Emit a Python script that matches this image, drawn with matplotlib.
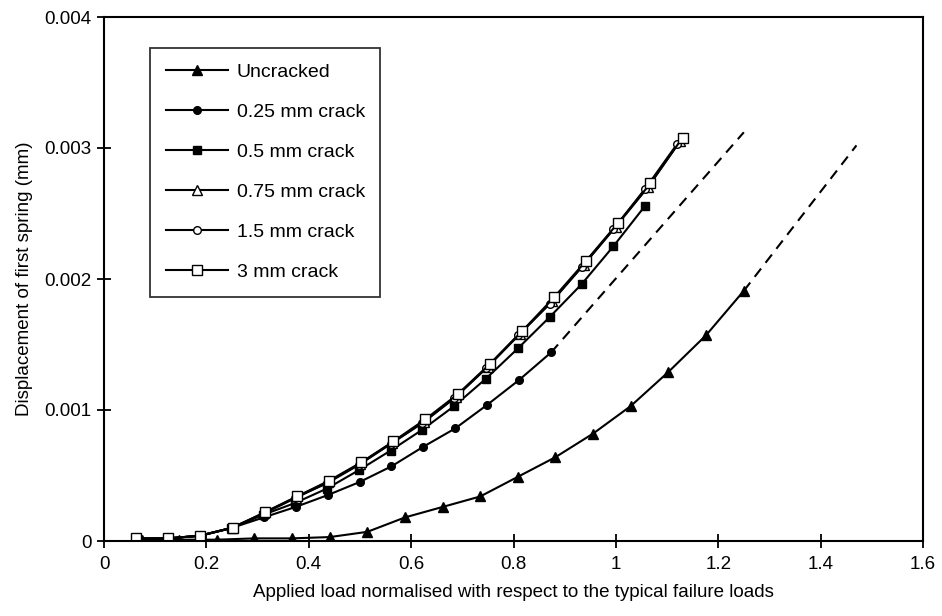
import numpy as np
import matplotlib
matplotlib.use("Agg")
import matplotlib.pyplot as plt
from matplotlib.ticker import FixedLocator, FixedFormatter

plt.rcParams['font.family'] = ['Liberation Sans', 'DejaVu Sans']

# ---- data ----
x_uncracked = [0.0735, 0.147, 0.2205, 0.294, 0.3675, 0.441, 0.5145, 0.588, 0.6615,
               0.735, 0.8085, 0.882, 0.9555, 1.029, 1.1025, 1.176, 1.25]
y_uncracked = [0.00001, 0.00001, 0.00001, 0.00002, 0.00002, 0.00003, 0.00007, 0.00018, 0.00026,
               0.00034, 0.00049, 0.00064, 0.00082, 0.00103, 0.00129, 0.00157, 0.00191]
x_uncracked_ext = [1.25, 1.47]
y_uncracked_ext = [0.00191, 0.00302]

x_c025 = [0.0624, 0.1248, 0.1872, 0.2496, 0.312, 0.3744, 0.4368, 0.4992, 0.5616,
          0.624, 0.6864, 0.7488, 0.8112, 0.8736]
y_c025 = [0.00001, 0.00002, 0.00004, 0.0001, 0.00018, 0.00026, 0.00035, 0.00045, 0.00057,
          0.00072, 0.00086, 0.00104, 0.00123, 0.00144]
x_c025_ext = [0.8736, 1.25]
y_c025_ext = [0.00144, 0.00312]

x_c05 = [0.0622, 0.1244, 0.1866, 0.2488, 0.311, 0.3732, 0.4354, 0.4976, 0.5598,
         0.622, 0.6842, 0.7464, 0.8086, 0.8708, 0.933, 0.9952, 1.0574]
y_c05 = [0.00001, 0.00002, 0.00004, 0.0001, 0.0002, 0.00029, 0.0004, 0.00054, 0.00069,
         0.00085, 0.00103, 0.00124, 0.00147, 0.00171, 0.00196, 0.00225, 0.00256]

x_c075 = [0.0625, 0.125, 0.1875, 0.25, 0.3125, 0.375, 0.4375, 0.5, 0.5625,
          0.625, 0.6875, 0.75, 0.8125, 0.875, 0.9375, 1.0, 1.0625, 1.125]
y_c075 = [0.00002, 0.00002, 0.00004, 0.0001, 0.00021, 0.00033, 0.00045, 0.00059, 0.00075,
          0.00091, 0.0011, 0.00133, 0.00158, 0.00183, 0.00211, 0.0024, 0.0027, 0.00305]

x_c15 = [0.0622, 0.1244, 0.1866, 0.2488, 0.311, 0.3732, 0.4354, 0.4976, 0.5598,
         0.622, 0.6842, 0.7464, 0.8086, 0.8708, 0.933, 0.9952, 1.0574, 1.1196]
y_c15 = [0.00002, 0.00002, 0.00004, 0.0001, 0.00021, 0.00033, 0.00044, 0.00058, 0.00074,
         0.0009, 0.00109, 0.00132, 0.00157, 0.00181, 0.00209, 0.00238, 0.00269, 0.00303]

x_c3 = [0.0628, 0.1256, 0.1884, 0.2512, 0.314, 0.3768, 0.4396, 0.5024, 0.5652,
        0.628, 0.6908, 0.7536, 0.8164, 0.8792, 0.942, 1.0048, 1.0676, 1.1304]
y_c3 = [0.00002, 0.00002, 0.00004, 0.0001, 0.00022, 0.00034, 0.00046, 0.0006, 0.00076,
        0.00093, 0.00112, 0.00135, 0.0016, 0.00186, 0.00214, 0.00243, 0.00273, 0.00308]

labels = ["Uncracked", "0.25 mm crack", "0.5 mm crack", "0.75 mm crack", "1.5 mm crack", "3 mm crack"]

x_ticks = [0, 0.2, 0.4, 0.6, 0.8, 1.0, 1.2, 1.4, 1.6]
x_tick_labels = ["0", "0.2", "0.4", "0.6", "0.8", "1", "1.2", "1.4", "1.6"]
y_ticks = [0, 0.001, 0.002, 0.003, 0.004]
y_tick_labels = ["0", "0.001", "0.002", "0.003", "0.004"]

# ---- figure ----
fig = plt.figure(figsize=(9.42, 6.16), dpi=100)
ax = fig.add_axes([104/942, 1 - 541/616, (923-104)/942, (541-17)/616])

lw = 1.5
ms = 5.5
k = dict(color='black', lw=lw)
ax.plot(x_uncracked_ext, y_uncracked_ext, ls=(0, (5, 3.5)), color='black', lw=lw)
ax.plot(x_c025_ext, y_c025_ext, ls=(0, (5, 3.5)), color='black', lw=lw)

ax.plot(x_uncracked, y_uncracked, marker='^', ms=ms+1, mfc='black', mec='black', label=labels[0], **k)
ax.plot(x_c025, y_c025, marker='o', ms=ms, mfc='black', mec='black', label=labels[1], **k)
ax.plot(x_c05, y_c05, marker='s', ms=ms, mfc='black', mec='black', label=labels[2], **k)
ax.plot(x_c075, y_c075, marker='^', ms=ms+1, mfc='white', mec='black', label=labels[3], **k)
ax.plot(x_c15, y_c15, marker='o', ms=ms, mfc='white', mec='black', label=labels[4], **k)
ax.plot(x_c3, y_c3, marker='s', ms=ms+1, mfc='white', mec='black', label=labels[5], **k)

ax.set_xlim(0, 1.6)
ax.set_ylim(0, 0.004)
ax.xaxis.set_major_locator(FixedLocator(x_ticks))
ax.xaxis.set_major_formatter(FixedFormatter(x_tick_labels))
ax.yaxis.set_major_locator(FixedLocator(y_ticks))
ax.yaxis.set_major_formatter(FixedFormatter(y_tick_labels))
ax.tick_params(axis='both', direction='inout', length=10, width=1.3, labelsize=13.5, color='black')
ax.tick_params(axis='x', pad=6)
ax.tick_params(axis='y', pad=4)
for s in ax.spines.values():
    s.set_linewidth(1.5)

ax.set_xlabel("Applied load normalised with respect to the typical failure loads", fontsize=13.5, labelpad=8)
ax.set_ylabel("Displacement of first spring (mm)", fontsize=13.5, labelpad=8)

leg = ax.legend(loc='upper left', bbox_to_anchor=((150-104)/(923-104), (541-48)/(541-17)),
                borderaxespad=0, fontsize=14, handlelength=3.2, labelspacing=1.15,
                frameon=True, fancybox=False, edgecolor='black', borderpad=0.8,
                handletextpad=0.45)
leg.get_frame().set_linewidth(1.3)

fig.savefig("out.png", dpi=100)
